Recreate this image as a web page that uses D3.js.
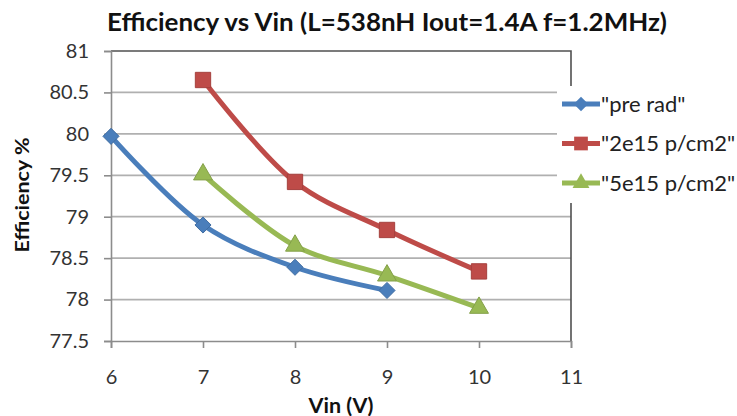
<!DOCTYPE html>
<html>
<head>
<meta charset="utf-8">
<script src="https://cdn.jsdelivr.net/npm/d3@7/dist/d3.min.js"></script>
<style>
  html, body { margin: 0; padding: 0; background: #fff; }
  svg { display: block; font-family: Lato, "Open Sans", sans-serif; }
</style>
</head>
<body>
<svg id="chart" width="737" height="416"></svg>
<script>
// Efficiency measurements versus input voltage
const vin = [6, 7, 8, 9, 10];
const preRad   = [79.97, 78.90, 78.39, 78.11, null];
const dose2e15 = [null, 80.65, 79.42, 78.84, 78.34];
const dose5e15 = [null, 79.51, 78.65, 78.29, 77.90];

const seriesNames = ['"pre rad"', '"2e15 p/cm2"', '"5e15 p/cm2"'];
const xTicks = [6, 7, 8, 9, 10, 11];
const yTicks = [77.5, 78, 78.5, 79, 79.5, 80, 80.5, 81];

const colors = ["#4a7ebb", "#be4b48", "#98b954"];
const seriesValues = [preRad, dose2e15, dose5e15];

// Square rotated 45 degrees (Excel-style diamond marker)
const rotatedSquare = {
  draw(ctx, size) {
    const r = Math.sqrt(size / 2);
    ctx.moveTo(0, -r);
    ctx.lineTo(r, 0);
    ctx.lineTo(0, r);
    ctx.lineTo(-r, 0);
    ctx.closePath();
  }
};
const shapes = [rotatedSquare, d3.symbolSquare, d3.symbolTriangle];
const markerSizes = [130, 235, 155];

const svg = d3.select("#chart");
const plot = { left: 111, right: 571, top: 51, bottom: 341 };

const x = d3.scaleLinear().domain([6, 11]).range([plot.left, plot.right]);
const y = d3.scaleLinear().domain([77.5, 81]).range([plot.bottom, plot.top]);

// Title
svg.append("text")
  .attr("x", 387).attr("y", 31)
  .attr("text-anchor", "middle")
  .attr("font-weight", "bold")
  .attr("font-size", 24)
  .attr("fill", "#111")
  .attr("textLength", 560)
  .attr("lengthAdjust", "spacingAndGlyphs")
  .text("Efficiency vs Vin (L=538nH Iout=1.4A f=1.2MHz)");

// Horizontal gridlines
svg.append("g")
  .selectAll("line")
  .data(yTicks.filter(v => v > 77.5 && v < 81))
  .join("line")
  .attr("x1", plot.left).attr("x2", plot.right)
  .attr("y1", d => y(d)).attr("y2", d => y(d))
  .attr("stroke", "#b0b0b0")
  .attr("stroke-width", 1.8);

// Plot frame: top and right edges
svg.append("path")
  .attr("d", `M${plot.left},${plot.top}H${plot.right}V${plot.bottom}`)
  .attr("fill", "none")
  .attr("stroke", "#505050")
  .attr("stroke-width", 1.6);

// Y axis
const yAxis = svg.append("g")
  .attr("transform", `translate(${plot.left},0)`)
  .call(d3.axisLeft(y).tickValues(yTicks).tickSize(7).tickPadding(15)
    .tickFormat(d3.format("")));
yAxis.select(".domain").attr("stroke", "#8c8c8c").attr("stroke-width", 1.6);
yAxis.selectAll(".tick line").attr("stroke", "#8c8c8c").attr("stroke-width", 1.6);
yAxis.selectAll(".tick text")
  .attr("font-size", 20).attr("fill", "#333")
  .attr("font-family", "Lato, sans-serif");

// X axis
const xAxis = svg.append("g")
  .attr("transform", `translate(0,${plot.bottom})`)
  .call(d3.axisBottom(x).tickValues(xTicks).tickSize(7).tickPadding(22)
    .tickFormat(d3.format("d")));
xAxis.select(".domain").attr("stroke", "#8c8c8c").attr("stroke-width", 1.6);
xAxis.selectAll(".tick line").attr("stroke", "#8c8c8c").attr("stroke-width", 1.6);
xAxis.selectAll(".tick text")
  .attr("font-size", 20).attr("fill", "#333")
  .attr("font-family", "Lato, sans-serif");

// Axis titles
svg.append("text")
  .attr("transform", "translate(29,195) rotate(-90)")
  .attr("text-anchor", "middle")
  .attr("font-weight", "bold")
  .attr("font-size", 19)
  .attr("fill", "#111")
  .attr("textLength", 115)
  .attr("lengthAdjust", "spacingAndGlyphs")
  .text("Efficiency %");

svg.append("text")
  .attr("x", 341).attr("y", 413)
  .attr("text-anchor", "middle")
  .attr("font-weight", "bold")
  .attr("font-size", 20)
  .attr("fill", "#111")
  .attr("textLength", 65)
  .attr("lengthAdjust", "spacingAndGlyphs")
  .text("Vin (V)");

// Series lines and markers
const line = d3.line()
  .defined(d => d.v != null)
  .x(d => x(d.x))
  .y(d => y(d.v))
  .curve(d3.curveCatmullRom.alpha(0.5));

seriesValues.forEach((vals, i) => {
  const pts = vin.map((xv, j) => ({ x: xv, v: vals[j] })).filter(d => d.v != null);
  svg.append("path")
    .datum(pts)
    .attr("d", line)
    .attr("fill", "none")
    .attr("stroke", colors[i])
    .attr("stroke-width", 5)
    .attr("stroke-linejoin", "round");
  svg.append("g")
    .selectAll("path")
    .data(pts)
    .join("path")
    .attr("transform", d => `translate(${x(d.x)},${y(d.v)})`)
    .attr("d", d3.symbol().type(shapes[i]).size(markerSizes[i]))
    .attr("fill", colors[i])
    .attr("stroke", d3.color(colors[i]).darker(0.4))
    .attr("stroke-width", 1);
});

// Legend with white backing over the plot's right edge
const legend = svg.append("g");
legend.append("rect")
  .attr("x", 557).attr("y", 86)
  .attr("width", 180).attr("height", 117)
  .attr("fill", "#fff");

seriesNames.forEach((name, i) => {
  const ly = 104 + i * 39.5;
  legend.append("line")
    .attr("x1", 562).attr("x2", 600)
    .attr("y1", ly).attr("y2", ly)
    .attr("stroke", colors[i])
    .attr("stroke-width", 5);
  legend.append("path")
    .attr("transform", `translate(581,${ly})`)
    .attr("d", d3.symbol().type(shapes[i]).size(markerSizes[i] * 0.8))
    .attr("fill", colors[i]);
  legend.append("text")
    .attr("x", 601).attr("y", ly + 7.5)
    .attr("font-size", 22)
    .attr("fill", "#222")
    .text(name);
});
</script>
</body>
</html>
